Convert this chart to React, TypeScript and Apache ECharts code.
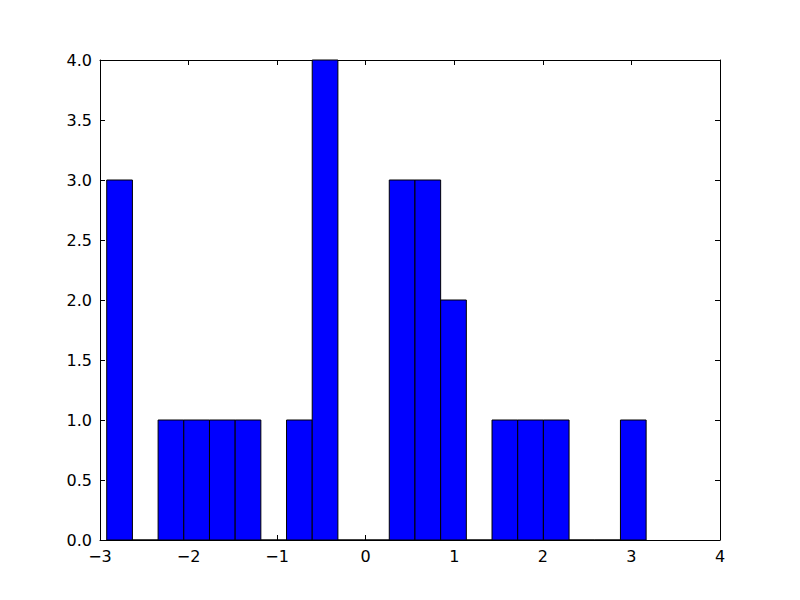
import React, { useEffect, useRef } from "react";
import * as echarts from "echarts";

// Histogram bin edges (21 bins)
const binEdges = [
  -2.924, -2.634, -2.344, -2.054, -1.764, -1.474, -1.184, -0.894, -0.604,
  -0.314, -0.024, 0.266, 0.556, 0.846, 1.136, 1.426, 1.716, 2.006, 2.296,
  2.586, 2.876, 3.166,
];
// Counts per bin
const counts = [3, 0, 1, 1, 1, 1, 0, 1, 4, 0, 0, 3, 3, 2, 0, 1, 1, 1, 0, 0, 1];

const xTicks = { min: -3, max: 4, interval: 1 };
const yTicks = { min: 0, max: 4, interval: 0.5 };

const FONT = "DejaVu Sans";

const fmtX = (v: number) => (v < 0 ? "\u2212" + Math.abs(v) : String(v));
const fmtY = (v: number) => v.toFixed(1);

export default function App() {
  const ref = useRef<HTMLDivElement>(null);
  useEffect(() => {
    document.body.style.margin = "0";
    if (!ref.current) return;
    const chart = echarts.init(ref.current, null, { renderer: "svg" });
    const data = counts.map((c, i) => [binEdges[i], binEdges[i + 1], c]);
    const lineStyle = { color: "#000", width: 1 };
    const tick = { show: true, inside: true, length: 5, lineStyle };
    const label = { color: "#000", fontFamily: FONT, fontSize: 16 };
    chart.setOption({
      animation: false,
      backgroundColor: "#fff",
      grid: { left: 100, right: 80, top: 60, bottom: 60, containLabel: false },
      xAxis: [
        {
          type: "value",
          position: "bottom",
          min: xTicks.min,
          max: xTicks.max,
          interval: xTicks.interval,
          axisLine: { show: true, onZero: false, lineStyle },
          axisTick: tick,
          axisLabel: { ...label, margin: 8, formatter: fmtX },
          splitLine: { show: false },
        },
        {
          type: "value",
          position: "top",
          min: xTicks.min,
          max: xTicks.max,
          interval: xTicks.interval,
          axisLine: { show: true, onZero: false, lineStyle },
          axisTick: tick,
          axisLabel: { show: false },
          splitLine: { show: false },
        },
      ],
      yAxis: [
        {
          type: "value",
          position: "left",
          min: yTicks.min,
          max: yTicks.max,
          interval: yTicks.interval,
          axisLine: { show: true, onZero: false, lineStyle },
          axisTick: tick,
          axisLabel: { ...label, margin: 8, formatter: fmtY },
          splitLine: { show: false },
        },
        {
          type: "value",
          position: "right",
          min: yTicks.min,
          max: yTicks.max,
          interval: yTicks.interval,
          axisLine: { show: true, onZero: false, lineStyle },
          axisTick: tick,
          axisLabel: { show: false },
          splitLine: { show: false },
        },
      ],
      series: [
        {
          type: "custom",
          xAxisIndex: 0,
          yAxisIndex: 0,
          z: 1,
          encode: { x: [0, 1], y: 2 },
          data,
          renderItem: (params: any, api: any) => {
            const x0 = api.value(0);
            const x1 = api.value(1);
            const h = api.value(2);
            const p0 = api.coord([x0, h]);
            const p1 = api.coord([x1, 0]);
            return {
              type: "rect",
              shape: {
                x: p0[0],
                y: p0[1],
                width: p1[0] - p0[0],
                height: p1[1] - p0[1],
              },
              style: { fill: "#0000ff", stroke: "#000", lineWidth: 1 },
            };
          },
        },
      ],
    });
    return () => chart.dispose();
  }, []);
  return <div ref={ref} style={{ width: 800, height: 600 }} />;
}
